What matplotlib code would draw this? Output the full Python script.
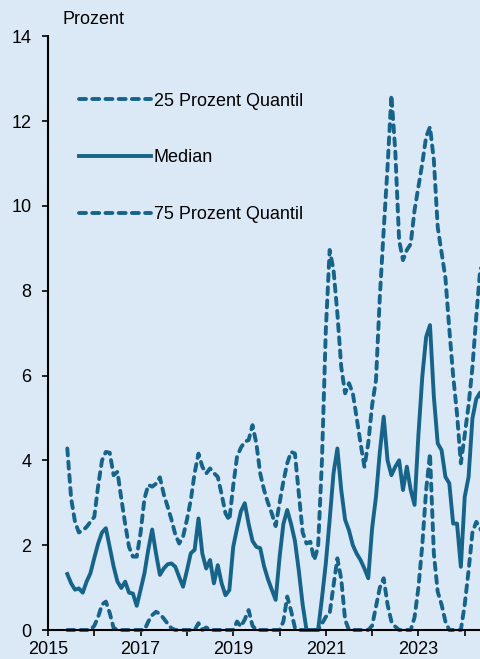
import numpy as np
import matplotlib
matplotlib.use("Agg")
import matplotlib.pyplot as plt

# monthly observations, June 2015 onwards
start_year = 2015
start_month = 6

median = [1.32, 1.10, 0.95, 0.98, 0.88, 1.14, 1.34, 1.70, 2.04, 2.30,
          2.40, 1.95, 1.50, 1.14, 0.99, 1.14, 0.88, 0.86, 0.57, 0.95,
          1.34, 1.90, 2.37, 1.80, 1.30, 1.45, 1.55, 1.57, 1.49, 1.25,
          1.02, 1.40, 1.81, 1.89, 2.63, 1.80, 1.45, 1.65, 1.10, 1.53,
          1.10, 0.82, 0.94, 1.96, 2.40, 2.80, 2.99, 2.50, 2.10, 1.96,
          1.93, 1.50, 1.20, 0.95, 0.71, 1.70, 2.50, 2.83, 2.50, 2.10,
          1.40, 0.60, 0.00, 0.00, 0.00, 0.00, 0.75, 1.57, 2.60, 3.70,
          4.28, 3.30, 2.60, 2.35, 2.00, 1.80, 1.65, 1.45, 1.22, 2.40,
          3.14, 4.20, 5.03, 4.00, 3.65, 3.85, 4.00, 3.30, 3.85, 3.30,
          2.95, 4.60, 5.97, 6.91, 7.19, 5.50, 4.40, 4.24, 3.61, 3.46,
          2.51, 2.51, 1.49, 3.14, 3.61, 4.99, 5.45, 5.60, 5.20]

q75 = [4.28, 3.10, 2.55, 2.30, 2.35, 2.43, 2.55, 2.67, 3.40, 4.00,
       4.20, 4.18, 3.65, 3.73, 3.10, 2.50, 1.96, 1.73, 1.73, 2.30,
       3.10, 3.42, 3.38, 3.45, 3.60, 3.20, 2.91, 2.60, 2.25, 2.04,
       2.20, 2.60, 3.06, 3.70, 4.16, 3.85, 3.69, 3.81, 3.70, 3.61,
       3.20, 2.75, 2.59, 3.40, 4.09, 4.30, 4.44, 4.48, 4.83, 4.40,
       3.69, 3.30, 3.00, 2.75, 2.45, 2.99, 3.50, 3.93, 4.20, 4.16,
       3.22, 2.30, 2.04, 2.08, 1.65, 1.96, 4.00, 7.07, 8.96, 8.49,
       7.46, 6.20, 5.58, 5.82, 5.58, 5.00, 4.40, 3.85, 4.40, 5.30,
       5.89, 7.86, 9.43, 10.92, 12.61, 11.30, 9.19, 8.72, 8.96, 9.10,
       9.90, 10.45, 11.00, 11.63, 11.86, 11.08, 9.50, 8.90, 8.30, 7.10,
       6.00, 5.10, 3.93, 4.60, 5.30, 6.20, 7.40, 8.49, 8.70]

q25 = [0.00, 0.00, 0.00, 0.00, 0.00, 0.00, 0.00, 0.10, 0.31, 0.60,
       0.67, 0.40, 0.05, 0.00, 0.00, 0.00, 0.00, 0.00, 0.00, 0.00,
       0.00, 0.20, 0.35, 0.43, 0.38, 0.27, 0.15, 0.04, 0.00, 0.00,
       0.00, 0.00, 0.00, 0.00, 0.16, 0.00, 0.06, 0.00, 0.00, 0.00,
       0.00, 0.00, 0.00, 0.00, 0.20, 0.08, 0.25, 0.47, 0.10, 0.00,
       0.00, 0.00, 0.00, 0.00, 0.00, 0.00, 0.20, 0.79, 0.45, 0.05,
       0.00, 0.00, 0.00, 0.00, 0.00, 0.00, 0.15, 0.31, 0.39, 1.05,
       1.69, 1.20, 0.24, 0.00, 0.00, 0.00, 0.00, 0.00, 0.00, 0.10,
       0.55, 1.00, 1.22, 0.60, 0.20, 0.08, 0.00, 0.00, 0.00, 0.00,
       0.30, 1.00, 2.00, 3.30, 4.16, 1.80, 0.90, 0.60, 0.20, 0.00,
       0.00, 0.00, 0.00, 0.60, 1.40, 2.30, 2.55, 2.40, 2.20]

year_ticks = list(range(2015, 2025))
year_labels = [str(y) if y % 2 == 1 else "" for y in year_ticks]
y_ticks = [0, 2, 4, 6, 8, 10, 12, 14]

plt.rcParams['font.family'] = ['Liberation Sans', 'DejaVu Sans']

line_col = '#17648a'
bg = '#dbe9f6'

x = start_year + (start_month - 1) / 12 + np.arange(len(median)) / 12

fig = plt.figure(figsize=(4.8, 6.59), dpi=100, facecolor=bg)
ax = fig.add_axes([0.1, 0.044, 0.9, 0.901])
ax.set_facecolor(bg)

dash_kw = dict(color=line_col, lw=2.8, linestyle=(0, (1.8, 1.6)),
               dash_capstyle='round', clip_on=False)
ax.plot(x, q25, label='25 Prozent Quantil', **dash_kw)
ax.plot(x, median, color=line_col, lw=2.8, solid_joinstyle='round',
        label='Median', clip_on=False)
ax.plot(x, q75, label='75 Prozent Quantil', **dash_kw)

ax.set_xlim(2015, 2024.33)
ax.set_ylim(0, 14)
ax.set_xticks(year_ticks)
ax.set_xticklabels(year_labels)
ax.set_yticks(y_ticks)

for s in ['top', 'right']:
    ax.spines[s].set_visible(False)
for s in ['left', 'bottom']:
    ax.spines[s].set_linewidth(1.5)
    ax.spines[s].set_color('black')

ax.tick_params(axis='y', labelsize=13, length=4, width=1.2, pad=8)
ax.tick_params(axis='x', labelsize=13, length=4, width=1.2, pad=4)

fig.text(63 / 480, 1 - 20 / 659, 'Prozent', fontsize=13, ha='left', va='center')

leg = ax.legend(loc='upper left', bbox_to_anchor=(0.055, 0.917), frameon=False,
                fontsize=13, handlelength=4.0, handletextpad=0.15,
                labelspacing=2.2, borderaxespad=0)

fig.savefig('out.png', dpi=100, facecolor=bg)
